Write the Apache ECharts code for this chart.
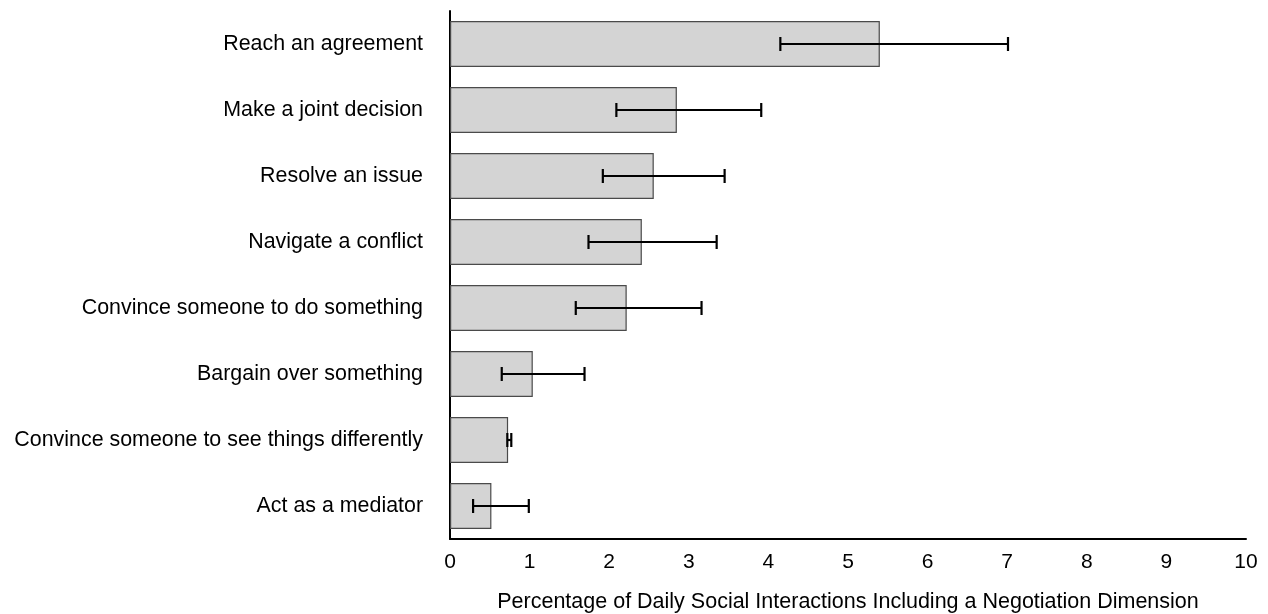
<!DOCTYPE html>
<html>
<head>
<meta charset="utf-8">
<script src="https://cdn.jsdelivr.net/npm/echarts@6/dist/echarts.min.js"></script>
<style>
  html, body { margin: 0; padding: 0; background: #fff; }
  #chart { width: 1268px; height: 614px; }
</style>
</head>
<body>
<div id="chart"></div>
<script>
// Negotiation dimensions, listed top to bottom
const categories = [
  'Reach an agreement',
  'Make a joint decision',
  'Resolve an issue',
  'Navigate a conflict',
  'Convince someone to do something',
  'Bargain over something',
  'Convince someone to see things differently',
  'Act as a mediator'
];
// Mean percentage of daily social interactions
const means = [5.40, 2.85, 2.56, 2.41, 2.22, 1.04, 0.73, 0.52];
// Lower and upper ends of the error bars
const errLow = [4.15, 2.09, 1.92, 1.74, 1.58, 0.65, 0.72, 0.29];
const errHigh = [7.01, 3.91, 3.45, 3.35, 3.16, 1.69, 0.77, 0.99];
// X axis range and ticks
const xTicks = [0, 1, 2, 3, 4, 5, 6, 7, 8, 9, 10];
const xTitle = 'Percentage of Daily Social Interactions Including a Negotiation Dimension';

const FONT = '"Liberation Sans", Arial, Helvetica, sans-serif';

const errData = categories.map((c, i) => [i, errLow[i], errHigh[i]]);

const chart = echarts.init(document.getElementById('chart'), null, { renderer: 'canvas' });

chart.setOption({
  animation: false,
  backgroundColor: '#ffffff',
  grid: { left: 450, right: 22, top: 11, bottom: 75, containLabel: false, outerBoundsMode: 'none' },
  xAxis: {
    type: 'value',
    min: xTicks[0],
    max: xTicks[xTicks.length - 1],
    interval: 1,
    name: xTitle,
    nameLocation: 'middle',
    nameGap: 52,
    nameTextStyle: { fontFamily: FONT, fontSize: 21.5, color: '#000' },
    axisLine: { show: true, onZero: false, lineStyle: { color: '#000', width: 2 } },
    axisTick: { show: false },
    splitLine: { show: false },
    axisLabel: { fontFamily: FONT, fontSize: 21, color: '#000', margin: 13 }
  },
  yAxis: {
    type: 'category',
    data: categories,
    inverse: true,
    axisLine: { show: true, lineStyle: { color: '#000', width: 2 } },
    axisTick: { show: false },
    splitLine: { show: false },
    axisLabel: { fontFamily: FONT, fontSize: 21.4, color: '#000', margin: 27 }
  },
  series: [
    {
      type: 'bar',
      data: means,
      barWidth: 46,
      itemStyle: { color: '#d4d4d4', borderColor: '#4a4a4a', borderWidth: 1.2 },
      z: 2
    },
    {
      type: 'custom',
      data: errData,
      encode: { y: 0, x: [1, 2] },
      z: 3,
      renderItem: function (params, api) {
        const idx = api.value(0);
        const lo = api.coord([api.value(1), idx]);
        const hi = api.coord([api.value(2), idx]);
        const cap = 7;
        const style = { stroke: '#000', lineWidth: 2.2, fill: null };
        return {
          type: 'group',
          children: [
            { type: 'line', shape: { x1: lo[0], y1: lo[1], x2: hi[0], y2: hi[1] }, style: style },
            { type: 'line', shape: { x1: lo[0], y1: lo[1] - cap, x2: lo[0], y2: lo[1] + cap }, style: style },
            { type: 'line', shape: { x1: hi[0], y1: hi[1] - cap, x2: hi[0], y2: hi[1] + cap }, style: style }
          ]
        };
      }
    }
  ]
});
</script>
</body>
</html>
